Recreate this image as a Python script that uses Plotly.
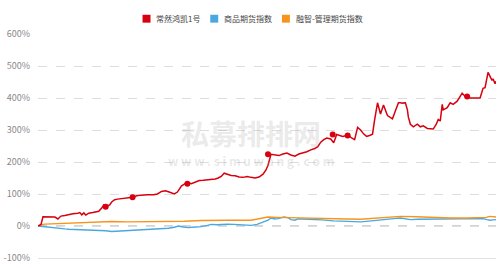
import plotly.graph_objects as go

# ---- data (t = trading-day index, values in %) ----
red_t = [0,3,5,8,12,17,20,23,27,31,35,40,42,44,46,48,51,55,58,61,64,66,68,70,72,74,77,80,84,88,92,95,100,104,110,116,120,124,128,131,134,137,140,144,148,151,154,158,162,166,170,174,178,181,184,187,190,194,198,202,206,210,214,218,222,226,229,231,234,238,242,246,250,254,258,262,266,270,274,278,281,284,287,290,294,297,300,303,306,309,312,315,318,321,324,327,330,333,336,338,341,344,347,351,353,356,359,362,364,366,369,371,372,374,377,381,384,387,391,394,397,400,402,404,406,407,411,414,417,421,426,429,434,440,444,447,449,452,454,456,457,459,460]
red_v = [0,5,29,29,29,28,22,31,33,36,38,40,42,35,41,34,40,42,44,46,56,66,60,64,66,75,82,84,86,88,90,90,95,97,98,98,100,108,110,107,103,100,106,125,133,135,132,138,142,143,144,146,147,150,155,165,162,158,157,153,152,155,152,150,153,162,175,190,224,222,220,225,228,222,218,225,228,232,238,242,248,262,270,275,272,260,286,283,280,282,283,275,270,308,300,288,280,283,287,330,385,350,378,345,340,335,360,385,385,384,385,363,340,318,310,318,310,313,305,305,303,318,333,328,380,363,370,385,380,390,415,405,400,400,400,430,432,480,466,455,460,445,452]

blue_t = [0,5,10,14,20,27,31,40,51,60,68,74,80,90,97,105,114,122,131,137,141,146,151,158,164,170,174,180,190,197,205,214,220,227,231,234,238,241,247,251,254,258,261,265,275,285,297,305,314,324,335,347,357,364,369,374,382,397,405,414,425,431,440,447,451,454,457,460]
blue_v = [0,-2,-3,-5,-7,-9,-10,-11,-12,-13,-15,-17,-16,-15,-15,-13,-10,-9,-7,-4,0,-3,-5,-3,-2,2,5,4,6,5,4,2,5,13,18,25,22,23,28,26,20,18,22,22,21,19,16,15,13,13,16,21,23,25,23,20,21,21,22,23,21,21,22,23,20,18,19,20]

orange_t = [0,3,7,15,27,45,64,74,90,111,130,147,164,174,190,214,225,231,240,250,264,280,297,310,324,340,350,364,380,397,414,431,440,450,454,460]
orange_v = [0,4,6,7,10,11,13,14,13,13,14,15,17,18,18,18,24,28,27,26,25,24,23,22,21,24,26,30,29,26,25,25,26,27,30,28]

mark_t = [68,95,150,231,296,311,431]
mark_v = [60,90,132,224,286,283,405]

names = ["常然鸿凯1号", "商品期货指数", "融智-管理期货指数"]
colors = ["#d7000f", "#4aa8e0", "#f7941d"]
y_ticks = [-100, 0, 100, 200, 300, 400, 500, 600]
y_labels = [f"{v}%" for v in y_ticks]

# ---- layout geometry (pixels) ----
W, H = 500, 268
ML, MR, MT, MB = 36, 4, 34, 7
PW, PH = W - ML - MR, H - MT - MB


def px(xp):
    return (xp - ML) / PW


def py(yp):
    return (H - MB - yp) / PH


fig = go.Figure()
fig.add_trace(go.Scatter(x=blue_t, y=blue_v, mode="lines", line=dict(color=colors[1], width=1.4), showlegend=False))
fig.add_trace(go.Scatter(x=orange_t, y=orange_v, mode="lines", line=dict(color=colors[2], width=1.4), showlegend=False))
fig.add_trace(go.Scatter(x=red_t, y=red_v, mode="lines", line=dict(color=colors[0], width=1.5), showlegend=False))
fig.add_trace(go.Scatter(x=mark_t, y=mark_v, mode="markers", marker=dict(color=colors[0], size=6), showlegend=False))

fig.add_shape(type="line", xref="paper", x0=0, x1=1, y0=0, y1=0,
              line=dict(color="#aaaaaa", width=1.2, dash="dash"), layer="below")

# manual legend
leg_sq_x = [141, 209, 281]
leg_y = 18.5
for xs, n, c in zip(leg_sq_x, names, colors):
    fig.add_shape(type="rect", xref="paper", yref="paper",
                  x0=px(xs), x1=px(xs + 8), y0=py(leg_y + 4), y1=py(leg_y - 4),
                  fillcolor=c, line=dict(width=0))
    fig.add_annotation(text=n, xref="paper", yref="paper", x=px(xs + 12), y=py(leg_y),
                       xanchor="left", yanchor="middle", showarrow=False,
                       font=dict(size=8, color="#444444"))

# watermark
fig.add_annotation(text="<b>私募排排网</b>", xref="paper", yref="paper", x=px(250), y=py(134),
                   showarrow=False, font=dict(size=28, color="rgba(150,150,150,0.2)", family="Noto Sans CJK SC"))
fig.add_annotation(text="<b>w w w . s i m u w a n g . c o m</b>", xref="paper", yref="paper",
                   x=px(250), y=py(162), showarrow=False,
                   font=dict(size=12, color="rgba(150,150,150,0.22)", family="Noto Sans CJK SC"))

fig.update_layout(
    width=W, height=H,
    margin=dict(l=ML, r=MR, t=MT, b=MB),
    paper_bgcolor="white", plot_bgcolor="white",
    font=dict(family="Noto Sans CJK SC", size=9, color="#666666"),
    showlegend=False,
    xaxis=dict(range=[0, 460], showticklabels=False, showgrid=False, zeroline=False,
               showline=True, linecolor="#e3e3e3", linewidth=1, ticks=""),
    yaxis=dict(range=[-100, 600], tickvals=y_ticks, ticktext=y_labels, showgrid=True,
               gridcolor="#dddddd", griddash="dash", gridwidth=1, zeroline=False,
               ticks="", ticklabelstandoff=7, tickfont=dict(size=9, color="#888888")),
)

fig.write_html("out.html")
